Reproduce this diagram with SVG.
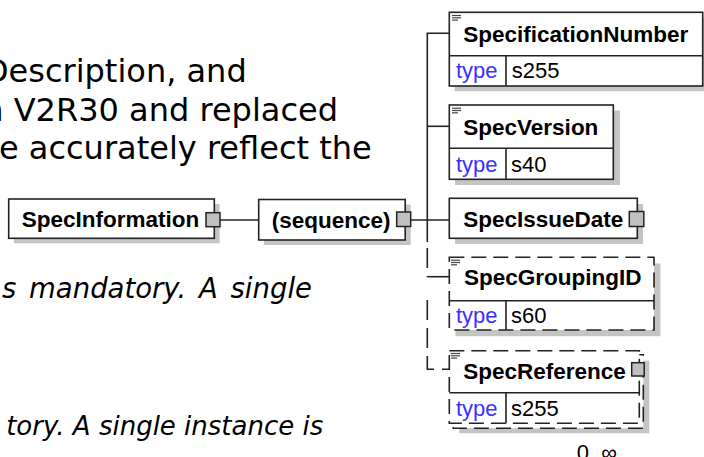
<svg xmlns="http://www.w3.org/2000/svg" width="704" height="457" viewBox="0 0 704 457">
<style>
.doc{font-family:"DejaVu Sans",Verdana,sans-serif;font-size:32px;fill:#000}
.ital{font-family:"DejaVu Sans",Verdana,sans-serif;font-size:26px;font-style:italic;fill:#000}
.ital1{font-family:"DejaVu Sans",Verdana,sans-serif;font-size:27.5px;font-style:italic;fill:#000;word-spacing:4px}
.nm{font-family:"Liberation Sans",Arial,sans-serif;font-size:22.5px;font-weight:bold;fill:#000}
.ty{font-family:"Liberation Sans",Arial,sans-serif;font-size:22px;fill:#3a30ff}
.val{font-family:"Liberation Sans",Arial,sans-serif;font-size:22px;fill:#000}
.box{fill:#fff;stroke:#222;stroke-width:1.6}
.dbox{fill:#fff;stroke:#222;stroke-width:1.6;stroke-dasharray:15 7}
.sh{fill:#c4c4c4}
.div{stroke:#222;stroke-width:1.6;fill:none}
.port{fill:#c0c0c0;stroke:#222;stroke-width:1.5}
.ln{stroke:#222;stroke-width:1.6;fill:none}
.dln{stroke:#222;stroke-width:1.6;fill:none;stroke-dasharray:20 8}
.ic{stroke:#444;stroke-width:1.2}
</style>
<rect width="704" height="457" fill="#fff"/>
<g id="document-text">
<text class="doc" x="246.7" y="81.7" text-anchor="end">Description, and</text>
<text class="doc" x="338" y="120.5" text-anchor="end">n V2R30 and replaced</text>
<text class="doc" x="371.7" y="159.3" text-anchor="end">re accurately reflect the</text>
<text class="ital1" x="2" y="298">s mandatory. A single</text>
<text class="ital" x="323.3" y="435" text-anchor="end">tory. A single instance is</text>
</g>
<g id="connectors">
<line class="ln" x1="220" y1="220" x2="259" y2="220"/>
<line class="ln" x1="410.7" y1="220" x2="449.3" y2="220"/>
<polyline class="ln" points="449.3,33.3 427.3,33.3 427.3,242"/>
<line class="ln" x1="427.3" y1="126.3" x2="449.3" y2="126.3"/>
<polyline class="dln" points="427.3,248 427.3,276.7"/>
<line class="ln" x1="427.3" y1="276.7" x2="449.3" y2="276.7"/>
<polyline class="dln" points="427.3,300 427.3,369.3 449.3,369.3"/>
</g>
<g id="node-SpecInformation">
<rect class="sh" x="14" y="204" width="205.6" height="39.3"/>
<rect class="box" x="8.7" y="199" width="205.6" height="39.3"/>
<text class="nm" x="21.7" y="226.7">SpecInformation</text>
<rect class="port" x="206" y="212.7" width="14" height="14"/>
</g>
<g id="node-sequence">
<rect class="sh" x="264" y="204.5" width="146.7" height="40.5"/>
<rect class="box" x="258.7" y="199.5" width="146.5" height="40.5"/>
<text class="nm" x="271.7" y="228.3">(sequence)</text>
<rect class="port" x="396.7" y="212" width="14" height="14.5"/>
</g>
<g id="node-SpecificationNumber">
<rect class="sh" x="454.6" y="17.5" width="260" height="73.7"/>
<rect class="box" x="449.3" y="12.3" width="253.4" height="73.7"/>
<line class="div" x1="449.3" y1="55.7" x2="702.7" y2="55.7"/>
<line class="div" x1="506" y1="55.7" x2="506" y2="86"/>
<line class="ic" x1="452" y1="15.5" x2="461" y2="15.5"/><line class="ic" x1="452" y1="17.8" x2="461" y2="17.8"/><line class="ic" x1="452" y1="20.1" x2="458" y2="20.1"/>
<text class="nm" x="463.3" y="41.7">SpecificationNumber</text>
<text class="ty" x="456" y="78.3">type</text>
<text class="val" x="511.7" y="78.3">s255</text>
</g>
<g id="node-SpecVersion">
<rect class="sh" x="455" y="110.5" width="165" height="74.5"/>
<rect class="box" x="449.3" y="105" width="164" height="74.3"/>
<line class="div" x1="449.3" y1="148.3" x2="613.3" y2="148.3"/>
<line class="div" x1="506" y1="148.3" x2="506" y2="179.3"/>
<line class="ic" x1="452" y1="108.2" x2="461" y2="108.2"/><line class="ic" x1="452" y1="110.5" x2="461" y2="110.5"/><line class="ic" x1="452" y1="112.8" x2="458" y2="112.8"/>
<text class="nm" x="463.3" y="135">SpecVersion</text>
<text class="ty" x="456" y="171.7">type</text>
<text class="val" x="511" y="171.7">s40</text>
</g>
<g id="node-SpecIssueDate">
<rect class="sh" x="455" y="204" width="188" height="40"/>
<rect class="box" x="449.3" y="198.3" width="188" height="40"/>
<text class="nm" x="463.3" y="226.7">SpecIssueDate</text>
<rect class="port" x="629.3" y="211.5" width="14.5" height="15"/>
</g>
<g id="node-SpecGroupingID">
<rect class="sh" x="455.5" y="263.5" width="205" height="72.7"/>
<rect class="dbox" x="449.3" y="257.3" width="204.7" height="72.7"/>
<line class="div" x1="449.3" y1="300.7" x2="654" y2="300.7"/>
<line class="div" x1="506" y1="300.7" x2="506" y2="330"/>
<line class="ic" x1="451" y1="260.2" x2="460" y2="260.2"/><line class="ic" x1="451" y1="262.5" x2="460" y2="262.5"/><line class="ic" x1="451" y1="264.8" x2="457" y2="264.8"/>
<text class="nm" x="464" y="285">SpecGroupingID</text>
<text class="ty" x="456" y="323.3">type</text>
<text class="val" x="511" y="323.3">s60</text>
</g>
<g id="node-SpecReference">
<rect class="sh" x="459.3" y="360.7" width="190" height="72.6"/>
<rect class="dbox" x="453.3" y="354.7" width="190" height="73.6"/>
<rect class="dbox" x="449.3" y="350.7" width="190" height="72.6"/>
<line class="div" x1="449.3" y1="392.7" x2="639.3" y2="392.7"/>
<line class="div" x1="506" y1="392.7" x2="506" y2="423.3"/>
<line class="ic" x1="451" y1="353.5" x2="460" y2="353.5"/><line class="ic" x1="451" y1="355.8" x2="460" y2="355.8"/><line class="ic" x1="451" y1="358.1" x2="457" y2="358.1"/>
<text class="nm" x="463.3" y="379.3">SpecReference</text>
<text class="ty" x="456" y="416">type</text>
<text class="val" x="511" y="416">s255</text>
<rect class="port" x="631.7" y="362.7" width="12.5" height="13.3"/>
<text class="val" x="576.7" y="459.5">0..∞</text>
</g>
</svg>
